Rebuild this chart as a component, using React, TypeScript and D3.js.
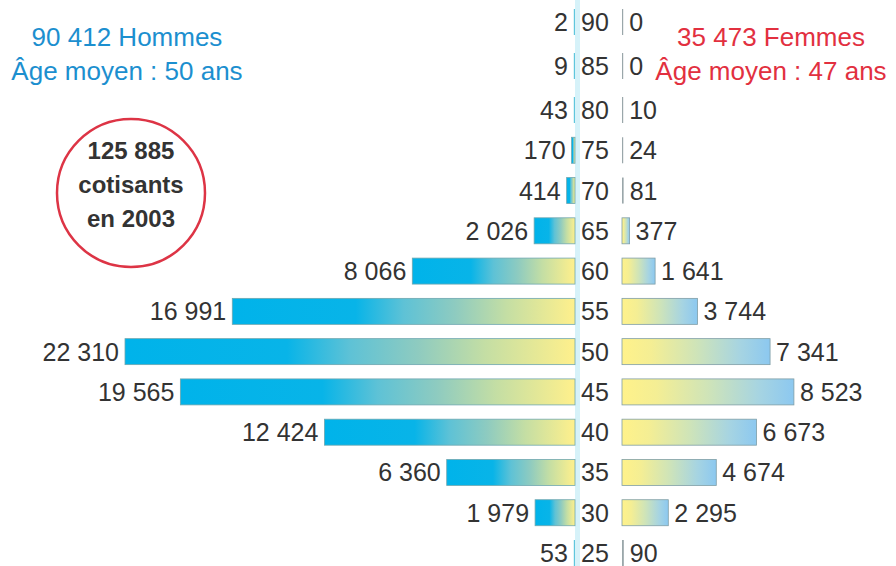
import React from "react";
import * as d3 from "d3";

const ages = [90, 85, 80, 75, 70, 65, 60, 55, 50, 45, 40, 35, 30, 25];
const hommes = [2, 9, 43, 170, 414, 2026, 8066, 16991, 22310, 19565, 12424, 6360, 1979, 53];
const femmes = [0, 0, 10, 24, 81, 377, 1641, 3744, 7341, 8523, 6673, 4674, 2295, 90];
const titreHommes = ["90 412 Hommes", "Âge moyen : 50 ans"];
const titreFemmes = ["35 473 Femmes", "Âge moyen : 47 ans"];
const cercle = ["125 885", "cotisants", "en 2003"];

const W = 896;
const H = 566;
const CX_M = 575; // right edge of male bars
const CX_F = 622; // left edge of female bars
const BAR_H = 26;
const FONT = "'Liberation Sans', Arial, Helvetica, sans-serif";

const fr = d3.formatLocale({ decimal: ",", thousands: " ", grouping: [3], currency: ["", " €"] });
const fmt = fr.format(",d");

export default function App() {
  const x = d3.scaleLinear().domain([0, 22310]).range([0, 450]);
  const y = d3.scaleLinear().domain([25, 80, 85, 90]).range([553, 110, 66, 22]);

  return (
    <svg
      width={W}
      height={H}
      viewBox={`0 0 ${W} ${H}`}
      style={{ position: "absolute", left: 0, top: 0, display: "block", background: "#fff" }}
    >
      <defs>
        <linearGradient id="gM" x1="0" x2="1" y1="0" y2="0">
          <stop offset="0" stopColor="#00b3ea" />
          <stop offset="0.36" stopColor="#08b4e8" />
          <stop offset="0.5" stopColor="#5ec2d6" />
          <stop offset="0.65" stopColor="#8ecbc0" />
          <stop offset="0.8" stopColor="#c4dea4" />
          <stop offset="1" stopColor="#fff08c" />
        </linearGradient>
        <linearGradient id="gF" x1="0" x2="1" y1="0" y2="0">
          <stop offset="0" stopColor="#fff28a" />
          <stop offset="0.2" stopColor="#f4ee94" />
          <stop offset="0.5" stopColor="#cfe4b8" />
          <stop offset="0.8" stopColor="#a6d4e2" />
          <stop offset="1" stopColor="#8cc8f0" />
        </linearGradient>
      </defs>

      <rect x={CX_M} y={0} width={5} height={H} fill="#d6f2f9" />

      {ages.map((a, i) => {
        const cy = y(a);
        const wm = Math.max(x(hommes[i]), 1.2);
        const wf = Math.max(x(femmes[i]), 1.2);
        return (
          <g key={a}>
            <rect
              x={CX_M - wm}
              y={cy - BAR_H / 2}
              width={wm}
              height={BAR_H}
              fill={hommes[i] > 100 ? "url(#gM)" : "#5fc6dc"}
              stroke={hommes[i] > 100 ? "#6fa7b0" : "none"}
              strokeWidth={0.8}
            />
            <rect
              x={CX_F}
              y={cy - BAR_H / 2}
              width={wf}
              height={BAR_H}
              fill={femmes[i] > 100 ? "url(#gF)" : "#9aa7aa"}
              stroke={femmes[i] > 100 ? "#7f9ea6" : "none"}
              strokeWidth={0.8}
            />
            <text
              x={CX_M - wm - 6}
              y={cy + 9}
              textAnchor="end"
              fontFamily={FONT}
              fontSize={25}
              fill="#333"
            >
              {fmt(hommes[i])}
            </text>
            <text x={595} y={cy + 9} textAnchor="middle" fontFamily={FONT} fontSize={25} fill="#333">
              {a}
            </text>
            <text x={CX_F + wf + 6} y={cy + 9} textAnchor="start" fontFamily={FONT} fontSize={25} fill="#333">
              {fmt(femmes[i])}
            </text>
          </g>
        );
      })}

      {titreHommes.map((t, i) => (
        <text
          key={t}
          x={127}
          y={46 + i * 34}
          textAnchor="middle"
          fontFamily={FONT}
          fontSize={26}
          fill="#1c8fcf"
        >
          {t}
        </text>
      ))}
      {titreFemmes.map((t, i) => (
        <text
          key={t}
          x={771}
          y={46 + i * 34}
          textAnchor="middle"
          fontFamily={FONT}
          fontSize={26}
          fill="#e2303f"
        >
          {t}
        </text>
      ))}

      <circle cx={131} cy={193} r={74} fill="#fff" stroke="#dd3445" strokeWidth={2.5} />
      {cercle.map((t, i) => (
        <text
          key={t}
          x={131}
          y={159 + i * 34}
          textAnchor="middle"
          fontFamily={FONT}
          fontSize={24}
          fontWeight="bold"
          fill="#333"
        >
          {t}
        </text>
      ))}
    </svg>
  );
}
